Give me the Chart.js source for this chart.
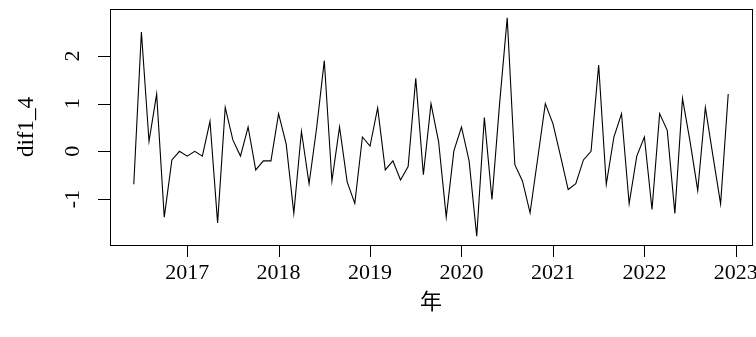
<!DOCTYPE html>
<html>
<head>
<meta charset="utf-8">
<script src="https://cdn.jsdelivr.net/npm/chart.js@4/dist/chart.umd.min.js"></script>
<style>
  html, body { margin: 0; padding: 0; background: #fff; }
  #wrap { width: 756px; height: 337px; }
</style>
</head>
<body>
<div id="wrap"><canvas id="tsChart" width="756" height="337"></canvas></div>
<script>
// monthly series, first observation June 2016
const startYear = 2016;
const startMonth = 6;
const dif1_4 = [
  -0.69, 2.50, 0.21, 1.20, -1.38, -0.18, 0.00, -0.10, 0.00, -0.10, 0.63, -1.50,
  0.92, 0.24, -0.10, 0.51, -0.39, -0.20, -0.20, 0.79, 0.15, -1.30, 0.42, -0.68,
  0.50, 1.90, -0.62, 0.51, -0.64, -1.09, 0.30, 0.11, 0.91, -0.39, -0.20, -0.60,
  -0.32, 1.53, -0.49, 1.00, 0.20, -1.38, 0.01, 0.51, -0.20, -1.78, 0.71, -1.01,
  1.00, 2.80, -0.28, -0.62, -1.29, -0.15, 1.00, 0.58, -0.10, -0.80, -0.68, -0.18,
  0.00, 1.81, -0.69, 0.30, 0.79, -1.10, -0.10, 0.30, -1.22, 0.79, 0.44, -1.30,
  1.11, 0.20, -0.82, 0.92, -0.10, -1.10, 1.20
];
const xTicks = [2017, 2018, 2019, 2020, 2021, 2022, 2023];
const yTicks = [-1, 0, 1, 2];
const xTitle = "年";
const yTitle = "dif1_4";

// time in fractional years
const points = dif1_4.map((v, i) => ({
  x: startYear + (startMonth - 1 + i) / 12,
  y: v,
}));

// R-like 4% padding around the data range
const xs = points.map(p => p.x);
const xPad = (Math.max(...xs) - Math.min(...xs)) * 0.04;
const yPad = (Math.max(...dif1_4) - Math.min(...dif1_4)) * 0.04;

const serif = "'Liberation Serif', 'Times New Roman', serif";
const fontPx = 22;

// box, outward ticks and labels drawn like a base graphics plot
const basePlotAxes = {
  id: "basePlotAxes",
  afterDraw(chart) {
    const { ctx, chartArea: a, scales } = chart;
    const tickLen = 12;
    ctx.save();
    ctx.strokeStyle = "#000";
    ctx.lineWidth = 1;
    ctx.strokeRect(Math.round(a.left) + 0.5, Math.round(a.top) + 0.5,
      Math.round(a.right - a.left), Math.round(a.bottom - a.top));

    ctx.fillStyle = "#000";
    ctx.font = `${fontPx}px ${serif}`;

    // x axis
    ctx.beginPath();
    xTicks.forEach(t => {
      const px = Math.round(scales.x.getPixelForValue(t)) + 0.5;
      ctx.moveTo(px, a.bottom);
      ctx.lineTo(px, a.bottom + tickLen);
    });
    ctx.stroke();
    ctx.textAlign = "center";
    ctx.textBaseline = "middle";
    xTicks.forEach(t => {
      ctx.fillText(String(t), scales.x.getPixelForValue(t), a.bottom + 28);
    });
    ctx.font = `${fontPx}px 'Noto Sans CJK SC', sans-serif`;
    ctx.fillText(xTitle, (a.left + a.right) / 2, a.bottom + 56);

    // y axis, labels rotated
    ctx.font = `${fontPx}px ${serif}`;
    ctx.beginPath();
    yTicks.forEach(t => {
      const py = Math.round(scales.y.getPixelForValue(t)) + 0.5;
      ctx.moveTo(a.left, py);
      ctx.lineTo(a.left - tickLen, py);
    });
    ctx.stroke();
    yTicks.forEach(t => {
      ctx.save();
      ctx.translate(a.left - 37, scales.y.getPixelForValue(t));
      ctx.rotate(-Math.PI / 2);
      ctx.fillText(String(t), 0, 0);
      ctx.restore();
    });
    ctx.font = `23px ${serif}`;
    ctx.save();
    ctx.translate(a.left - 83, (a.top + a.bottom) / 2);
    ctx.rotate(-Math.PI / 2);
    ctx.fillText(yTitle, 0, 0);
    ctx.restore();
    ctx.restore();
  },
};

new Chart(document.getElementById("tsChart").getContext("2d"), {
  type: "line",
  data: {
    datasets: [{
      data: points,
      borderColor: "#000",
      borderWidth: 1.1,
      pointRadius: 0,
      tension: 0,
      fill: false,
    }],
  },
  options: {
    responsive: false,
    devicePixelRatio: 1,
    animation: false,
    layout: { padding: { left: 110, right: 4, top: 9, bottom: 92 } },
    plugins: { legend: { display: false }, tooltip: { enabled: false } },
    scales: {
      x: {
        type: "linear",
        display: false,
        min: Math.min(...xs) - xPad,
        max: Math.max(...xs) + xPad,
      },
      y: {
        type: "linear",
        display: false,
        min: Math.min(...dif1_4) - yPad,
        max: Math.max(...dif1_4) + yPad,
      },
    },
  },
  plugins: [basePlotAxes],
});
</script>
</body>
</html>
